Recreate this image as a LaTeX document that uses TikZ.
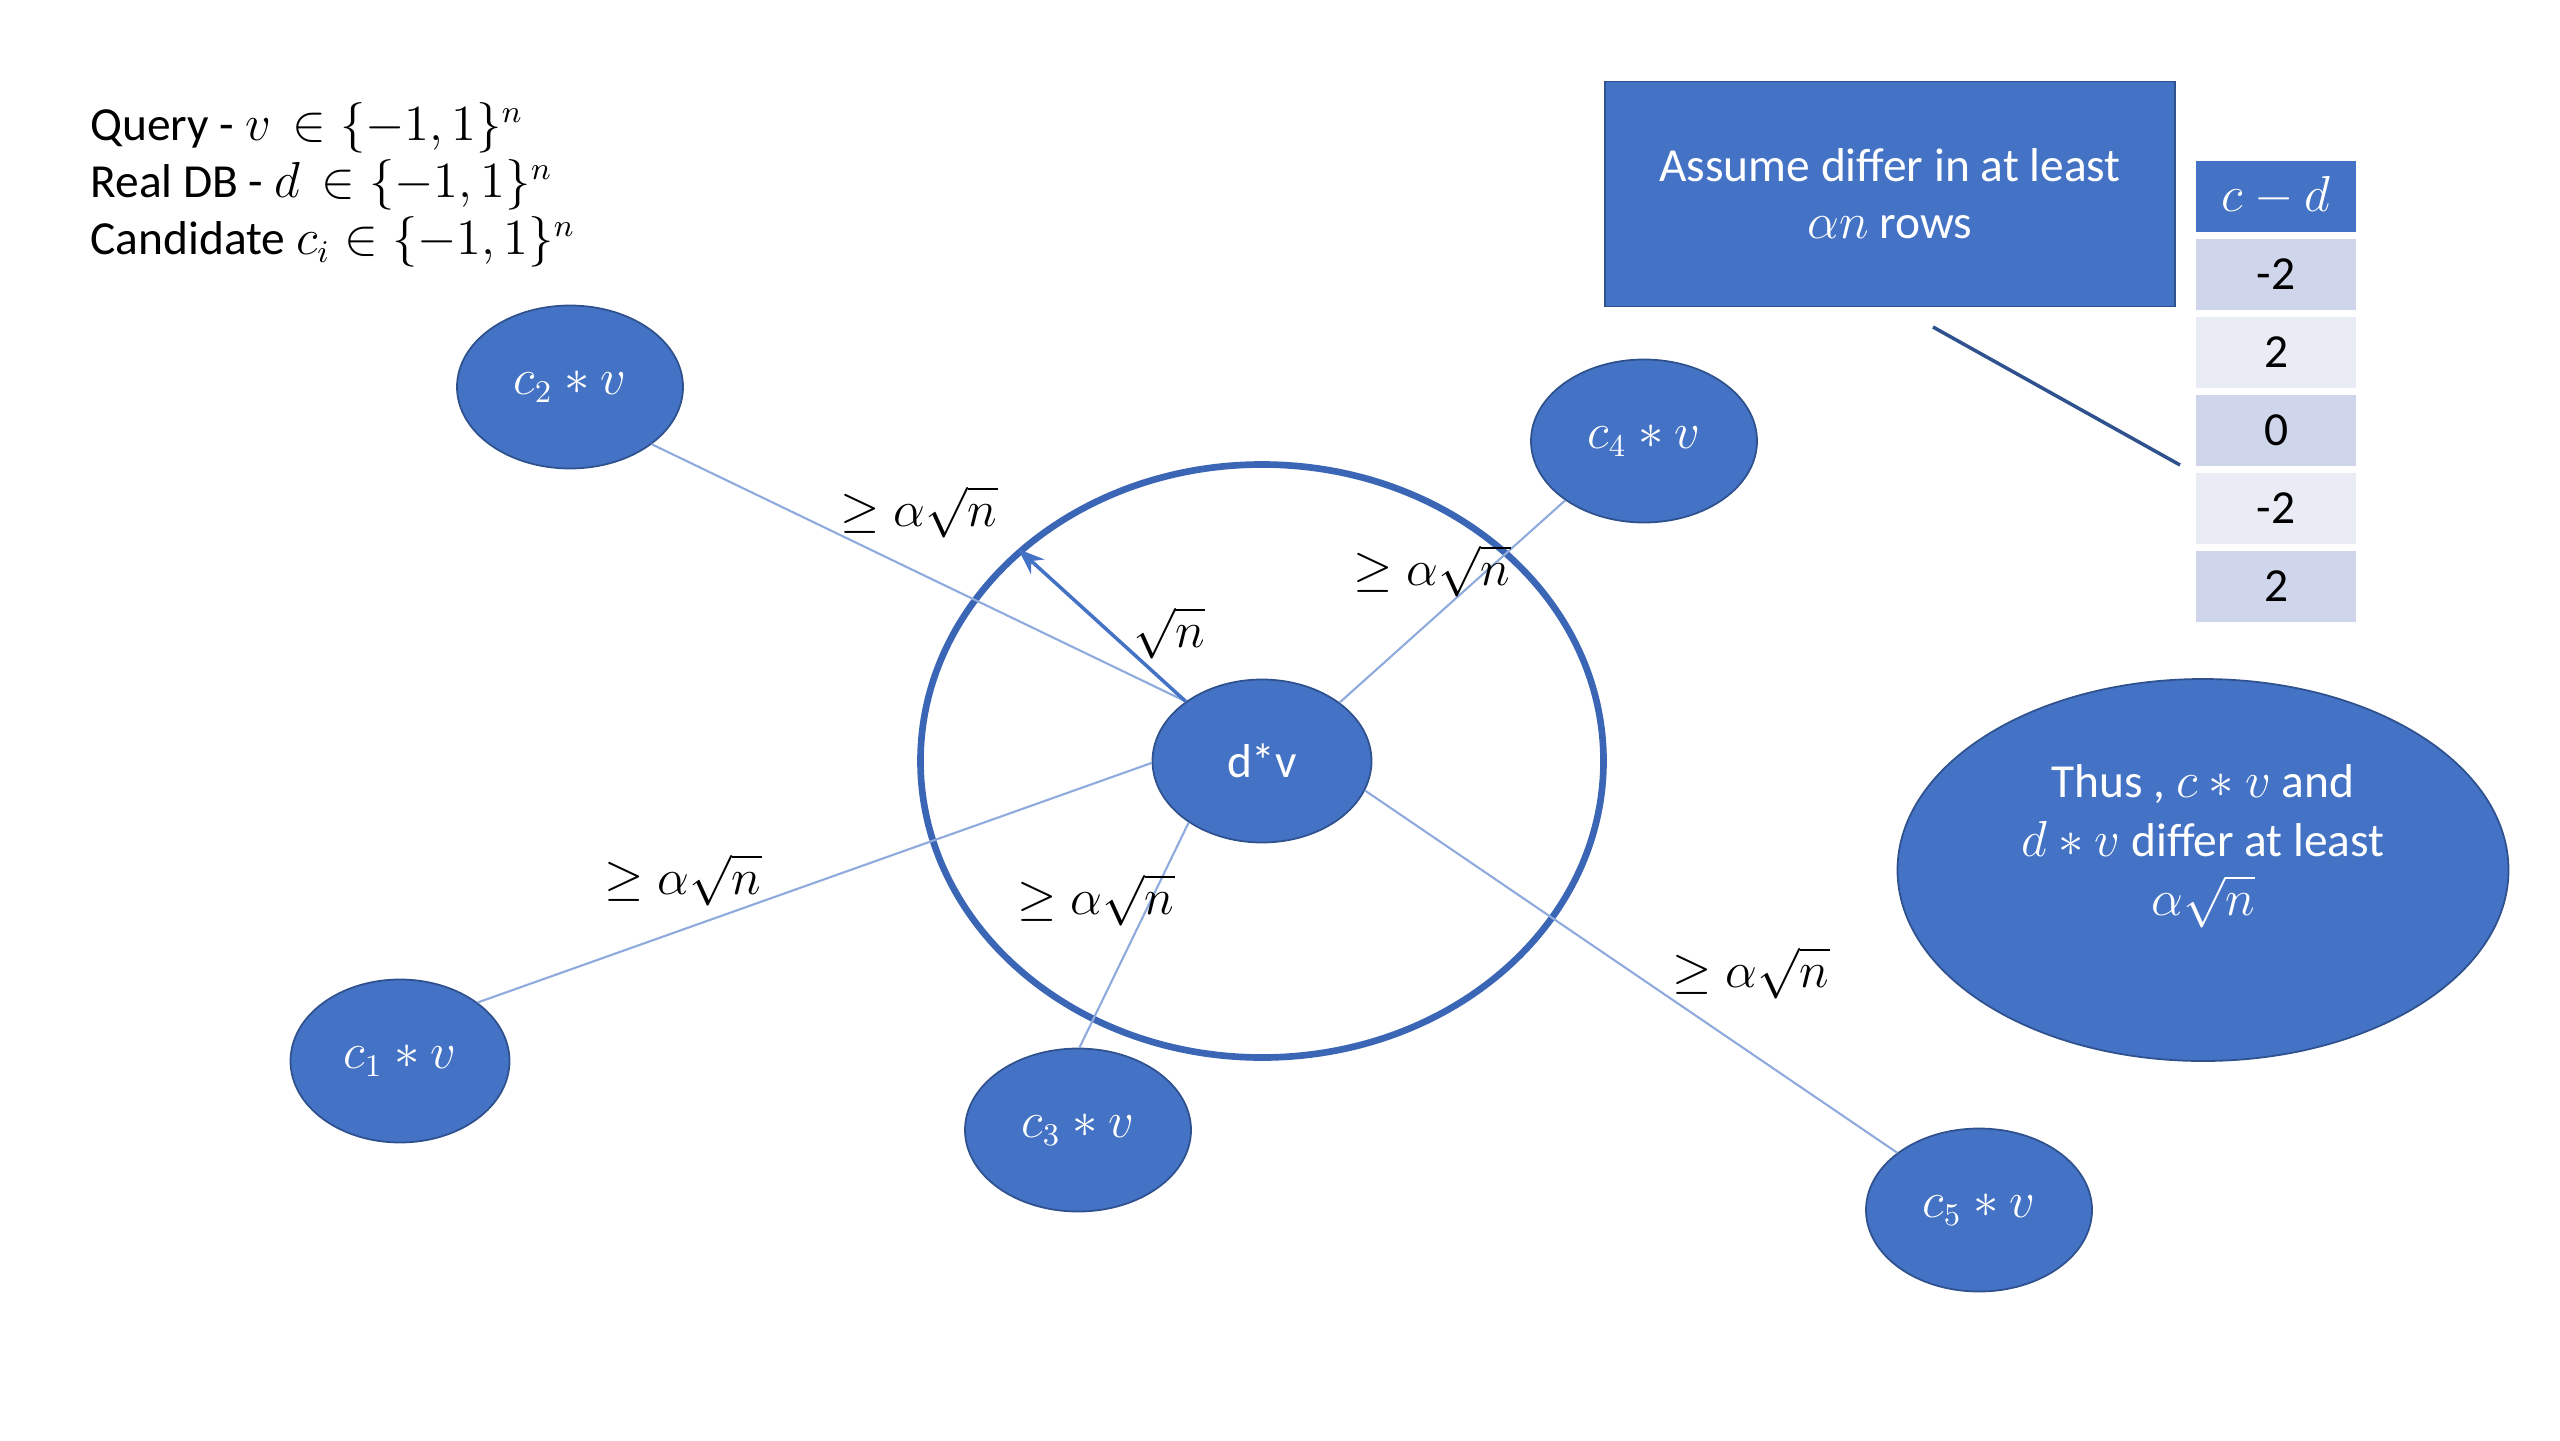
\documentclass[tikz,border=0pt]{standalone}
\usepackage{amsmath}
\usepackage{fontspec}
\setmainfont{Carlito}
\usetikzlibrary{
    shapes.geometric,
    positioning,
    arrows.meta
}
\definecolor{boxblue}{HTML}{4472C4}
\definecolor{edgeblue}{HTML}{2F528F}
\definecolor{ringblue}{HTML}{3B66B5}
\definecolor{linkblue}{HTML}{8FAADC}
\definecolor{rowdark}{HTML}{CFD5EA}
\definecolor{rowlight}{HTML}{E9EBF5}
\tikzset{
    >=Stealth,
    blob/.style={
        ellipse,
        fill=boxblue,
        draw=edgeblue,
        line width=0.5pt,
        text=white,
        inner sep=0pt
    },
    small blob/.style={
        blob,
        minimum width=2.26cm,
        minimum height=1.63cm
    },
    link/.style={
        draw=linkblue,
        line width=0.6pt
    },
    cell/.style={
        minimum width=1.60cm,
        minimum height=0.71cm,
        inner sep=0pt
    }
}

\begin{document}
\begin{tikzpicture}[
    font=\fontsize{13.5}{16.2}\selectfont
]
    \useasboundingbox (0,0) rectangle (25.6,-14.4);

    % Definiciones
    \node[anchor=west, align=left] (defs) at (0.78,-1.85)
        {Query - $v$\ \ $\in \{-1,1\}^n$\\
         Real DB - $d$\ \ $\in \{-1,1\}^n$\\
         Candidate $c_i \in \{-1,1\}^n$};

    % Circulo de radio sqrt(n)
    \node[ellipse, draw=ringblue, line width=1.9pt,
          minimum width=6.83cm, minimum height=5.93cm] (ring) at (12.62,-7.61) {};

    % Nodos
    \node[blob, minimum width=2.19cm, minimum height=1.63cm] (dv) at (12.62,-7.61) {d*v};
    \node[small blob, minimum width=2.19cm] (c1) at (4.00,-10.61) {$c_1 * v$};
    \node[small blob] (c2) at (5.70,-3.87)  {$c_2 * v$};
    \node[small blob] (c3) at (10.78,-11.30) {$c_3 * v$};
    \node[small blob] (c4) at (16.44,-4.41) {$c_4 * v$};
    \node[small blob] (c5) at (19.79,-12.10) {$c_5 * v$};

    % Conexiones
    \draw[link] (c1.37)  -- (dv.181);
    \draw[link] (c2.-35) -- (dv.142);
    \draw[link] (c3.89)  -- (dv.220);
    \draw[link] (c4.-143) -- (dv.37);
    \draw[link] (c5.145) -- (dv.-16);
    \draw[->, draw=boxblue, line width=1pt] (dv.142) -- (ring.139);

    % Distancias
    \node (d1) at (6.83,-8.80)  {$\geq \alpha\sqrt{n}$};
    \node (d2) at (9.19,-5.12)  {$\geq \alpha\sqrt{n}$};
    \node (d3) at (10.96,-9.00) {$\geq \alpha\sqrt{n}$};
    \node (d4) at (14.32,-5.71) {$\geq \alpha\sqrt{n}$};
    \node (d5) at (17.51,-9.73) {$\geq \alpha\sqrt{n}$};
    \node (rad) at (11.69,-6.33) {$\sqrt{n}$};

    % Supuesto y tabla
    \node[fill=boxblue, draw=edgeblue, line width=0.5pt, text=white, align=center,
          minimum width=5.70cm, minimum height=2.25cm] (assume) at (18.90,-1.94)
        {Assume differ in at least\\ $\alpha n$ rows};
    \node[cell, fill=boxblue, text=white] (hdr) at (22.76,-1.96) {$c-d$};
    \foreach \val/\shade [count=\i] in {-2/rowdark, 2/rowlight, 0/rowdark, -2/rowlight, 2/rowdark}
        \node[cell, fill=\shade] (row\i) at (22.76,{-1.96-0.78*\i}) {\val};

    \coordinate (callA) at (19.33,-3.27);
    \coordinate (callB) at (21.80,-4.65);
    \draw[draw=edgeblue, line width=1pt] (callA) -- (callB);

    % Conclusion
    \node[blob, minimum width=6.11cm, minimum height=3.82cm] (thus) at (22.03,-8.70) {};
    \node[text=white, align=center, font=\fontsize{13.5}{16.8}\selectfont] (thustext)
        at ([yshift=0.24cm]thus.center)
        {Thus , $c * v$ and\\ $d * v$ differ at least\\ $\alpha\sqrt{n}$};

\end{tikzpicture}
\end{document}
